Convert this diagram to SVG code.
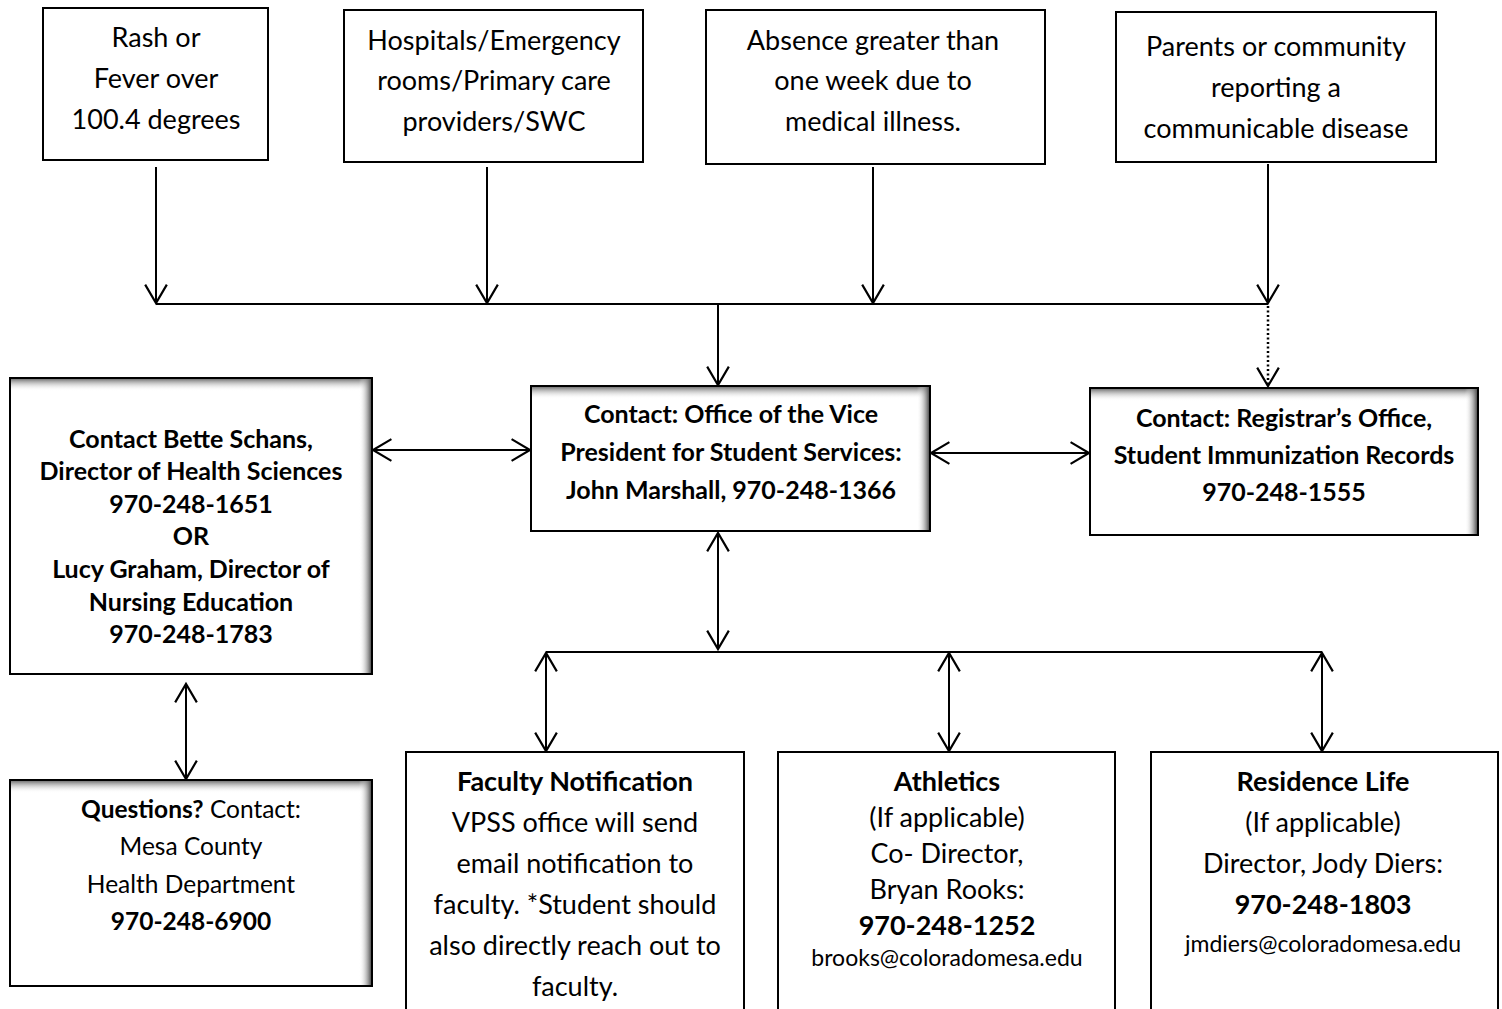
<svg xmlns="http://www.w3.org/2000/svg" width="1502" height="1009" viewBox="0 0 1502 1009">
<style>
text{font-family:Lato,"Liberation Sans",sans-serif;fill:#000;text-anchor:middle}
.t{font-size:27px}
.r{font-size:24.5px}
.s{font-size:23px}
.b{font-size:25px;font-weight:bold}
.bb{font-size:27px;font-weight:bold}
.box{fill:#fff;stroke:#000;stroke-width:2}
.ln{fill:none;stroke:#000;stroke-width:2}
.ar{marker-end:url(#ah)}
.da{marker-start:url(#ah);marker-end:url(#ah)}
.dot{stroke-dasharray:2 2.5;stroke-width:2.5}
</style>
<defs>
<marker id="ah" markerUnits="userSpaceOnUse" markerWidth="24" markerHeight="26" viewBox="-19 -12 21 24" refX="0" refY="0" orient="auto-start-reverse">
<path d="M-17-10L0 0L-17 10" fill="none" stroke="#000" stroke-width="2"/>
</marker>
<linearGradient id="gt" x1="0" y1="0" x2="0" y2="1"><stop offset="0" stop-color="#777"/><stop offset="1" stop-color="#fff" stop-opacity="0"/></linearGradient>
<linearGradient id="gr" x1="0" y1="0" x2="1" y2="0"><stop offset="0" stop-color="#fff" stop-opacity="0"/><stop offset="1" stop-color="#555"/></linearGradient>
</defs>
<rect width="1502" height="1009" fill="#fff"/>

<g id="connectors">
<path class="ln ar" d="M156 167V303"/>
<path class="ln ar" d="M487 167V303"/>
<path class="ln ar" d="M873 167V303"/>
<path class="ln ar" d="M1268 164V303"/>
<path class="ln" d="M156 304H1268"/>
<path class="ln ar" d="M718 304V385"/>
<path class="ln dot ar" d="M1268 306V386"/>
<path class="ln da" d="M373 450H530"/>
<path class="ln da" d="M931 453H1089"/>
<path class="ln da" d="M718 533V649"/>
<path class="ln" d="M546 652H1322"/>
<path class="ln da" d="M546 653V751"/>
<path class="ln da" d="M949 653V751"/>
<path class="ln da" d="M1322 653V751"/>
<path class="ln da" d="M186 684V779"/>
</g>

<g id="rash">
<rect class="box" x="43" y="8" width="225" height="152"/>
<text class="t" x="156" y="47">Rash or</text>
<text class="t" x="156" y="88">Fever over</text>
<text class="t" x="156" y="129">100.4 degrees</text>
</g>

<g id="hospitals">
<rect class="box" x="344" y="10" width="299" height="152"/>
<text class="t" x="494" y="50">Hospitals/Emergency</text>
<text class="t" x="494" y="90">rooms/Primary care</text>
<text class="t" x="494" y="131">providers/SWC</text>
</g>

<g id="absence">
<rect class="box" x="706" y="10" width="339" height="154"/>
<text class="t" x="873" y="50">Absence greater than</text>
<text class="t" x="873" y="90">one week due to</text>
<text class="t" x="873" y="131">medical illness.</text>
</g>

<g id="parents">
<rect class="box" x="1116" y="12" width="320" height="150"/>
<text class="t" x="1276" y="56">Parents or community</text>
<text class="t" x="1276" y="97">reporting a</text>
<text class="t" x="1276" y="138">communicable disease</text>
</g>

<g id="vpss">
<rect class="box" x="531" y="386" width="399" height="145"/>
<rect x="532" y="387" width="397" height="12" fill="url(#gt)"/>
<rect x="917" y="387" width="12" height="143" fill="url(#gr)"/>
<text class="b" x="731" y="423">Contact: Office of the Vice</text>
<text class="b" x="731" y="461">President for Student Services:</text>
<text class="b" x="731" y="499">John Marshall, 970-248-1366</text>
</g>

<g id="health">
<rect class="box" x="10" y="378" width="362" height="296"/>
<rect x="11" y="379" width="360" height="12" fill="url(#gt)"/>
<rect x="359" y="379" width="12" height="294" fill="url(#gr)"/>
<text class="b" x="191" y="448">Contact Bette Schans,</text>
<text class="b" x="191" y="480">Director of Health Sciences</text>
<text class="b" x="191" y="513">970-248-1651</text>
<text class="b" x="191" y="545">OR</text>
<text class="b" x="191" y="578">Lucy Graham, Director of</text>
<text class="b" x="191" y="611">Nursing Education</text>
<text class="b" x="191" y="643">970-248-1783</text>
</g>

<g id="registrar">
<rect class="box" x="1090" y="388" width="388" height="147"/>
<rect x="1091" y="389" width="386" height="12" fill="url(#gt)"/>
<rect x="1465" y="389" width="12" height="145" fill="url(#gr)"/>
<text class="b" x="1284" y="427">Contact: Registrar’s Office,</text>
<text class="b" x="1284" y="464">Student Immunization Records</text>
<text class="b" x="1284" y="501">970-248-1555</text>
</g>

<g id="questions">
<rect class="box" x="10" y="780" width="362" height="206"/>
<rect x="11" y="781" width="360" height="12" fill="url(#gt)"/>
<rect x="359" y="781" width="12" height="204" fill="url(#gr)"/>
<text class="r" x="191" y="818"><tspan font-weight="bold">Questions?</tspan> Contact:</text>
<text class="r" x="191" y="855">Mesa County</text>
<text class="r" x="191" y="893">Health Department</text>
<text class="r" x="191" y="930" font-weight="bold">970-248-6900</text>
</g>

<g id="faculty">
<rect class="box" x="406" y="752" width="338" height="280"/>
<text class="bb" x="575" y="791">Faculty Notification</text>
<text class="t" x="575" y="832">VPSS office will send</text>
<text class="t" x="575" y="873">email notification to</text>
<text class="t" x="575" y="914">faculty. *Student should</text>
<text class="t" x="575" y="955">also directly reach out to</text>
<text class="t" x="575" y="996">faculty.</text>
</g>

<g id="athletics">
<rect class="box" x="778" y="752" width="337" height="280"/>
<text class="bb" x="947" y="791">Athletics</text>
<text class="t" x="947" y="827">(If applicable)</text>
<text class="t" x="947" y="863">Co- Director,</text>
<text class="t" x="947" y="899">Bryan Rooks:</text>
<text class="bb" x="947" y="935">970-248-1252</text>
<text class="s" x="947" y="966">brooks@coloradomesa.edu</text>
</g>

<g id="residence">
<rect class="box" x="1151" y="752" width="347" height="280"/>
<text class="bb" x="1323" y="791">Residence Life</text>
<text class="t" x="1323" y="832">(If applicable)</text>
<text class="t" x="1323" y="873">Director, Jody Diers:</text>
<text class="bb" x="1323" y="914">970-248-1803</text>
<text class="s" x="1323" y="952">jmdiers@coloradomesa.edu</text>
</g>
</svg>
